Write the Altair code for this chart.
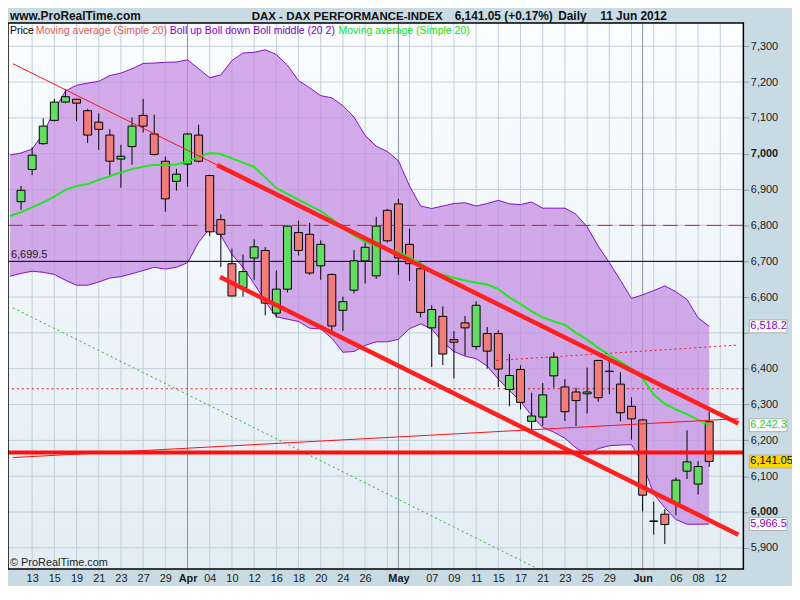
import altair as alt
import pandas as pd

FONT = "Liberation Sans"

# ---------------- data ----------------
# candles: trading days 12 Mar 2012 .. 11 Jun 2012, index 0..62
opens = [6866, 6956, 7028, 7093, 7144, 7152, 7120, 7088, 7052, 6985,
         7020, 7107, 7055, 6979, 6923, 6971, 7052, 6939, 6816, 6693,
         6626, 6709, 6730, 6555, 6622, 6780, 6775, 6687, 6663, 6563,
         6619, 6701, 6659, 6842, 6860, 6747, 6679, 6514, 6546, 6481,
         6528, 6462, 6498, 6498, 6342, 6398, 6253, 6265, 6380, 6349,
         6335, 6330, 6423, 6392, 6357, 6295, 6257, 5974, 5994, 6024,
         6114, 6078, 6252]
highs = [6910, 7018, 7099, 7153, 7181, 7153, 7125, 7113, 7068, 7025,
         7101, 7153, 7109, 6992, 6958, 7058, 7081, 6941, 6831, 6735,
         6719, 6761, 6739, 6674, 6800, 6813, 6807, 6758, 6666, 6601,
         6731, 6760, 6824, 6846, 6874, 6791, 6680, 6577, 6574, 6505,
         6547, 6588, 6516, 6507, 6441, 6409, 6333, 6360, 6446, 6371,
         6347, 6403, 6425, 6430, 6390, 6320, 6260, 6029, 6008, 6096,
         6228, 6142, 6281]
lows = [6843, 6940, 7025, 7090, 7141, 7091, 7030, 7011, 6940, 6905,
        6969, 7059, 6995, 6838, 6897, 6908, 6975, 6770, 6684, 6601,
        6601, 6648, 6549, 6543, 6613, 6716, 6662, 6648, 6504, 6505,
        6610, 6638, 6651, 6752, 6662, 6645, 6543, 6405, 6410, 6373,
        6437, 6453, 6400, 6349, 6295, 6286, 6227, 6241, 6347, 6254,
        6240, 6275, 6308, 6329, 6253, 6202, 6002, 5937, 5911, 5991,
        6092, 6049, 6126]
closes = [6898, 6996, 7077, 7144, 7159, 7141, 7052, 7068, 6979, 6993,
          7077, 7077, 6998, 6874, 6943, 7055, 6979, 6782, 6775, 6603,
          6671, 6740, 6583, 6622, 6798, 6730, 6667, 6747, 6519, 6587,
          6701, 6739, 6798, 6757, 6709, 6693, 6557, 6565, 6441, 6474,
          6514, 6577, 6449, 6399, 6381, 6306, 6268, 6327, 6432, 6280,
          6311, 6335, 6319, 6393, 6277, 6260, 6047, 5975, 5965, 6089,
          6140, 6127, 6141.05]

# indicators, index -1 (9 Mar) .. 62
boll_up = [6996, 7002, 7013, 7056, 7121, 7175, 7191, 7197, 7202, 7218,
           7225, 7237, 7252, 7253, 7255, 7256, 7262, 7237, 7212, 7220,
           7260, 7281, 7283, 7290, 7277, 7247, 7204, 7184, 7162, 7156,
           7134, 7102, 7051, 7021, 7006, 6980, 6910, 6854, 6847, 6854,
           6861, 6863, 6854, 6861, 6870, 6860, 6858, 6865, 6848, 6848,
           6848, 6831, 6796, 6742, 6696, 6647, 6596, 6606, 6618, 6631,
           6615, 6593, 6542, 6518.2]
boll_dn = [6658, 6666, 6672, 6669, 6663, 6647, 6633, 6633, 6642, 6653,
           6657, 6665, 6674, 6683, 6678, 6683, 6696, 6753, 6791, 6772,
           6719, 6683, 6637, 6588, 6545, 6538, 6532, 6513, 6511, 6485,
           6446, 6448, 6465, 6475, 6475, 6482, 6512, 6525, 6511, 6474,
           6448, 6435, 6428, 6407, 6371, 6339, 6309, 6269, 6236, 6223,
           6206, 6179, 6160, 6177, 6185, 6187, 6188, 6136, 6050, 6012,
           5979, 5966, 5966, 5966.5]
ma20 = [6826, 6837, 6850, 6864, 6880, 6899, 6910, 6915, 6927, 6937,
        6948, 6957, 6964, 6969, 6968, 6970, 6978, 6991, 7002, 6999,
        6987, 6975, 6963, 6934, 6904, 6888, 6872, 6856, 6840, 6818,
        6792, 6772, 6754, 6742, 6734, 6726, 6711, 6693, 6673, 6662,
        6654, 6646, 6640, 6635, 6622, 6599, 6580, 6560, 6543, 6532,
        6522, 6500, 6481, 6458, 6438, 6420, 6399, 6373, 6328, 6302,
        6286, 6273, 6257, 6242.3]

# x-axis ticks (trading-day index) and their labels
tick_idx = [1, 3, 5, 7, 9, 11, 13, 15, 17, 19, 21, 23, 25, 27, 29, 31, 33,
            34, 35, 37, 39, 41, 43, 45, 47, 49, 51, 53, 55, 56, 57, 59, 61, 63]
tick_lbl = ["13", "15", "19", "21", "23", "27", "29", "Apr", "04", "10", "12",
            "16", "18", "20", "24", "26", "", "May", "", "07", "09", "11", "15",
            "17", "21", "23", "25", "29", "", "Jun", "", "06", "08", "12"]
month_idx = [15, 34, 56]
grid_idx = [i for i in range(1, 64, 2) if i not in month_idx]
price_ticks = list(range(5900, 7301, 100))

# drawn trend lines (index, value)
up_thin = ([-0.727, 17.67], [7251, 6968.6])
up_thick = ([17.67, 64.63], [6968.6, 6247])
dn_thick = ([17.93, 64.63], [6655.6, 5936.7])
rise_thin = ([-0.727, 64.63], [6152, 6260.5])
rise_dot = ([42.81, 64.63], [6423, 6466])
green_dot = ([-0.727, 46.6], [6570, 5841])
h_dash = 6800
h_black = 6699.5
h_dot = 6344
h_thick = 6166

# right-side value boxes
box_vals = [6518.2, 6242.3, 6141.05, 5966.5]
box_txt = ["6,518.2", "6,242.3", "6,141.05", "5,966.5"]

# ---------------- chart ----------------
W, H = 741, 550
xs = alt.Scale(domain=[-0.727, 64.63], nice=False, zero=False)
ys = alt.Scale(domain=[5841.2, 7364.5], nice=False, zero=False)

lbl_expr = ("[" + ",".join("'%s'" % s for s in tick_lbl) + "][indexof(["
            + ",".join(str(i) for i in tick_idx) + "], datum.value)]")

xaxis = alt.Axis(values=tick_idx, labelExpr=lbl_expr, grid=False, domain=False,
                 ticks=True, tickColor="#d9b6b6", tickSize=3, labelPadding=1,
                 labelFont=FONT, labelFontSize=11, labelColor="#1a1a1a",
                 labelFontWeight={"condition": {"test": "datum.value == 15 || datum.value == 34 || datum.value == 56",
                                                "value": "bold"}, "value": "normal"},
                 title=None, labelOverlap=False, labelFlush=False, labelBound=False)
yaxis = alt.Axis(orient="right", values=price_ticks,
                 labelExpr="datum.value == 6500 ? '' : format(datum.value, ',')",
                 grid=False, domain=False, ticks=True, tickColor="#8a9aa8", tickSize=5,
                 labelPadding=2, labelFont=FONT, labelFontSize=11, labelColor="#1a1a1a",
                 labelFontWeight={"condition": {"test": "datum.value == 7000 || datum.value == 6000",
                                                "value": "bold"}, "value": "normal"},
                 title=None, labelOverlap=False, labelFlush=False, labelBound=False)


def X(f):
    return alt.X(f + ":Q", scale=xs, axis=xaxis)


def Y(f):
    return alt.Y(f + ":Q", scale=ys, axis=yaxis)


ONE = pd.DataFrame({"a": [0]})

candles = pd.DataFrame({"idx": list(range(len(opens))), "open": opens, "high": highs,
                        "low": lows, "close": closes})
candles["dir"] = ["flat" if abs(c - o) <= 2 else ("up" if c > o else "down")
                  for o, c in zip(opens, closes)]
ind = pd.DataFrame({"idx": list(range(-1, len(boll_up) - 1)), "up": boll_up,
                    "dn": boll_dn, "ma": ma20})

bg = alt.Chart(ONE).mark_rect(
    color={"gradient": "linear", "x1": 0, "x2": 0, "y1": 0, "y2": 1,
           "stops": [{"offset": 0, "color": "#fbfdfe"}, {"offset": 1, "color": "#e2edf4"}]}
).encode(x=alt.value(0), x2=alt.value(W), y=alt.value(0), y2=alt.value(H))

vgrid = alt.Chart(pd.DataFrame({"g": grid_idx})).mark_rule(color="#c2cfd8", strokeWidth=1).encode(x=X("g"))
mgrid = alt.Chart(pd.DataFrame({"g": month_idx})).mark_rule(color="#8794a0", strokeWidth=1).encode(x=X("g"))
hgrid = alt.Chart(pd.DataFrame({"g": price_ticks})).mark_rule(color="#c2cfd8", strokeWidth=1).encode(y=Y("g"))

band = alt.Chart(ind).mark_area(color="#c48ae2", opacity=0.72, clip=True).encode(
    x=X("idx"), y=Y("up"), y2="dn")
up_line = alt.Chart(ind).mark_line(color="#8410c8", strokeWidth=1, clip=True).encode(x=X("idx"), y=Y("up"))
dn_line = alt.Chart(ind).mark_line(color="#8410c8", strokeWidth=1, clip=True).encode(x=X("idx"), y=Y("dn"))
ma_line = alt.Chart(ind).mark_line(color="#1ee81e", strokeWidth=2, clip=True).encode(x=X("idx"), y=Y("ma"))


def hline(v, color, width=1, dash=None):
    kw = dict(color=color, strokeWidth=width)
    if dash:
        kw["strokeDash"] = dash
    return alt.Chart(pd.DataFrame({"v": [v]})).mark_rule(**kw).encode(y=Y("v"))


def seg(pts, color, width=1, dash=None):
    kw = dict(color=color, strokeWidth=width, clip=True)
    if dash:
        kw["strokeDash"] = dash
    return alt.Chart(pd.DataFrame({"i": pts[0], "v": pts[1]})).mark_line(**kw).encode(
        x=X("i"), y=Y("v"))


wick = alt.Chart(candles).mark_rule(color="#000", strokeWidth=1).encode(
    x=X("idx"), y=Y("low"), y2="high")
body = alt.Chart(candles).mark_bar(size=8, stroke="#000", strokeWidth=1).encode(
    x=X("idx"), y=Y("open"), y2="close",
    color=alt.Color("dir:N", scale=alt.Scale(domain=["up", "down", "flat"],
                                             range=["#62dc62", "#f07c7c", "#000000"]),
                    legend=None))


def txt(s, x, y, color="#000", size=11, weight="normal", align="left", baseline="middle"):
    return alt.Chart(ONE).mark_text(text=s, font=FONT, fontSize=size, fontWeight=weight,
                                    color=color, align=align, baseline=baseline).encode(
        x=alt.value(x), y=alt.value(y))


LG = 10.6
texts = [
    txt("www.ProRealTime.com", 2, -3.5, "#111", 12, "bold", baseline="alphabetic"),
    txt("DAX - DAX PERFORMANCE-INDEX", 438, -3.5, "#111", 11.6, "bold", align="right", baseline="alphabetic"),
    txt("6,141.05 (+0.17%)", 549, -3.5, "#111", 12, "bold", align="right", baseline="alphabetic"),
    txt("Daily", 583, -3.5, "#111", 12, "bold", align="right", baseline="alphabetic"),
    txt("11 Jun 2012", 664, -3.5, "#111", 12, "bold", align="right", baseline="alphabetic"),
    txt("Price", 2, 8, "#000", LG),
    txt("Moving average (Simple 20)", 28, 8, "#e25a5a", LG),
    txt("Boll up Boll down Boll middle (20 2)", 163, 8, "#8000c4", LG),
    txt("Moving average (Simple 20)", 333, 8, "#12e012", LG),
    txt("\u00a9 ProRealTime.com", 2, H - 6, "#222"),
]

lbl6699 = alt.Chart(pd.DataFrame({"v": [h_black]})).mark_text(
    text="6,699.5", font=FONT, fontSize=11, color="#222", align="left", baseline="bottom", dy=-1
).encode(x=alt.value(3), y=Y("v"))

box_styles = [("#ffffff", "#8000c4", 38, 766), ("#ffffff", "#12d812", 38, 766),
              ("#ffd800", "#000000", 44, 769), ("#ffffff", "#8000c4", 38, 766)]
boxes = []
for v, t, (fill, tc, bw, cx) in zip(box_vals, box_txt, box_styles):
    d = pd.DataFrame({"v": [v]})
    boxes.append(alt.Chart(d).mark_tick(orient="horizontal", size=bw, thickness=13, color=fill,
                                        stroke="#b0b0b0", strokeWidth=1, opacity=1).encode(
        x=alt.value(cx), y=Y("v")))
    boxes.append(alt.Chart(d).mark_text(text=t, font=FONT, fontSize=11, color=tc, align="left",
                                        baseline="middle").encode(x=alt.value(748), y=Y("v")))

frame = alt.Chart(ONE).mark_rect(filled=False, stroke="#000", strokeWidth=1.5).encode(
    x=alt.value(0), x2=alt.value(W), y=alt.value(0), y2=alt.value(H))

layers = [bg, hgrid, vgrid, mgrid, band, up_line, dn_line,
          hline(h_dash, "#e01818", 1, [15, 7]), hline(h_black, "#000", 1), hline(h_dot, "#e01818", 1, [2, 3]),
          seg(green_dot, "#22b022", 1, [2, 3]),
          wick, body, ma_line,
          seg(up_thin, "#ff1010", 1), seg(up_thick, "#ff2020", 4.5), seg(dn_thick, "#ff2020", 4.5),
          seg(rise_thin, "#ff1010", 1), seg(rise_dot, "#ff1010", 1, [2, 3]),
          hline(h_thick, "#ff1010", 4),
          lbl6699] + texts + boxes + [frame]

chart = alt.layer(*layers).properties(
    width=W, height=H,
    padding={"left": 0, "top": 13, "right": 49, "bottom": 15},
    autosize=alt.AutoSizeParams(type="none"),
).configure(background="#c8dbe5").configure_view(stroke=None)

chart.save("out.html", embed_options={"renderer": "svg", "actions": False})
